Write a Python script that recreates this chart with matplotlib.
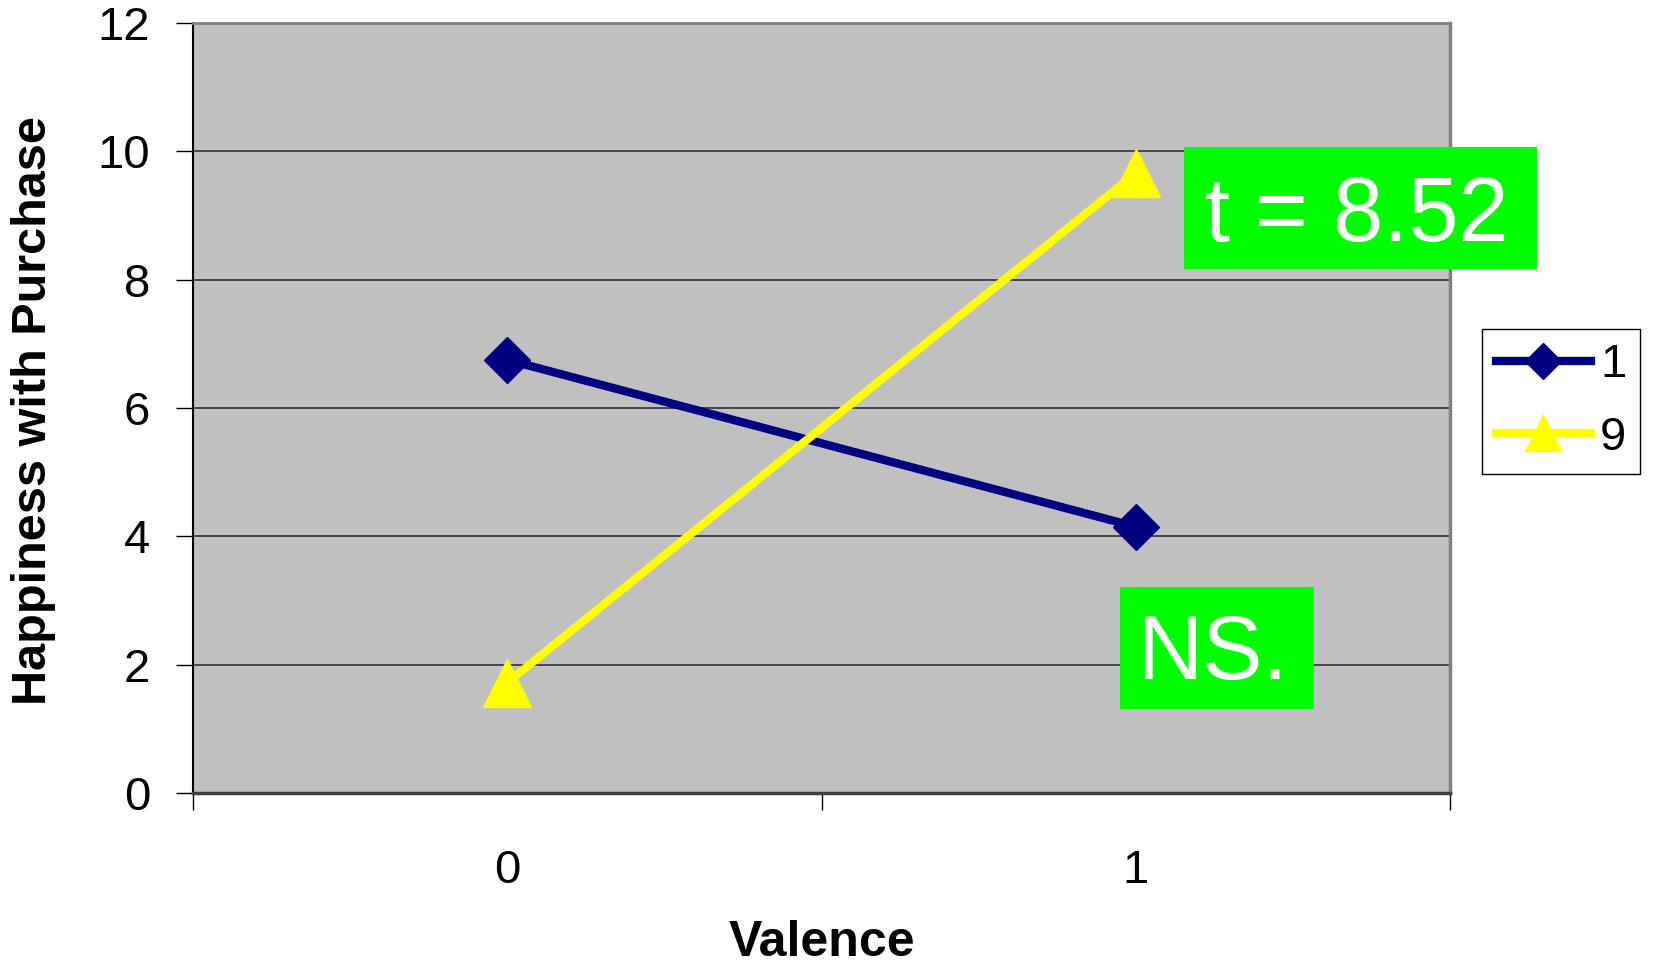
import matplotlib.pyplot as plt
from matplotlib.patches import Rectangle

plt.rcParams['font.family'] = ['Liberation Sans', 'DejaVu Sans']

# valores por grupo
valencia = [0, 1]
serie_1 = [6.75, 4.15]
serie_9 = [1.72, 9.66]
nombres_series = ["1", "9"]

fig = plt.figure(figsize=(16.6, 9.67), dpi=100)
ax = fig.add_axes([0.1163, 0.1799, 0.7572, 0.7963])
ax.set_facecolor("#C0C0C0")

ax.plot(valencia, serie_1, color="#000080", lw=6, marker="D", markersize=23,
        label=nombres_series[0], zorder=3)
ax.plot(valencia, serie_9, color="#FFFF00", lw=6, marker="^", markersize=34,
        label=nombres_series[1], zorder=3)

ax.set_xlim(-0.5, 1.5)
ax.set_ylim(0, 12)
ax.set_yticks(range(0, 13, 2))
ax.yaxis.grid(True, color="#333333", lw=1.2)
ax.set_axisbelow(True)

# categorias en el centro, marcas en los bordes
ax.set_xticks(valencia)
ax.set_xticklabels([str(v) for v in valencia])
ax.set_xticks([-0.5, 0.5, 1.5], minor=True)
ax.tick_params(axis="x", which="major", length=0, pad=40, labelsize=34)
ax.tick_params(axis="x", which="minor", length=12, width=1, color="black")
ax.tick_params(axis="y", length=12, width=1, pad=19, labelsize=34)

ax.spines["top"].set_color("#808080")
ax.spines["right"].set_color("#808080")
ax.spines["top"].set_linewidth(2)
ax.spines["right"].set_linewidth(2.5)
ax.spines["left"].set_color("black")
ax.spines["left"].set_linewidth(1.5)
ax.spines["bottom"].set_color("#404040")
ax.spines["bottom"].set_linewidth(2.5)

ax.set_xlabel("Valence", fontsize=36, fontweight="bold", labelpad=20)
fig.text(34 / 1660, 1 - 411 / 967, "Happiness with Purchase", rotation=90,
         fontsize=35, fontweight="bold", ha="center", va="center")

# cajas verdes con la prueba t
fig.patches.append(Rectangle((1184 / 1660, 1 - 269 / 967), 353 / 1660, 122 / 967,
                             transform=fig.transFigure, facecolor="#00FF00",
                             edgecolor="none", zorder=5))
fig.text(1357 / 1660, 1 - 208 / 967, "t = 8.52", fontsize=65, color="white",
         ha="center", va="center_baseline", zorder=6)

fig.patches.append(Rectangle((1120 / 1660, 1 - 709 / 967), 194 / 1660, 122 / 967,
                             transform=fig.transFigure, facecolor="#00FF00",
                             edgecolor="none", zorder=5))
fig.text(1213 / 1660, 1 - 646 / 967, "NS.", fontsize=65, color="white",
         ha="center", va="center_baseline", zorder=6)

leg = ax.legend(loc="upper left", bbox_to_anchor=(1482 / 1660, 1 - 329 / 967),
                bbox_transform=fig.transFigure, fontsize=34, frameon=True,
                fancybox=False, edgecolor="black", framealpha=1,
                handlelength=2.0, handletextpad=0.2, borderpad=0.3,
                labelspacing=0.6, borderaxespad=0, markerscale=0.78)
leg.get_frame().set_linewidth(1.0)

fig.savefig("out.png", dpi=100)
